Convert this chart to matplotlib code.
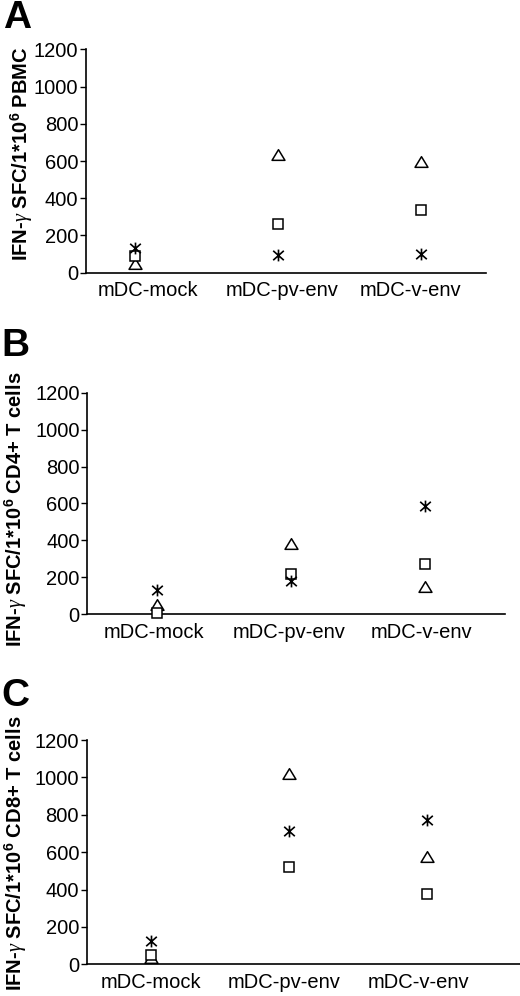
import matplotlib
matplotlib.use("Agg")
import matplotlib.pyplot as plt
from matplotlib.path import Path

plt.rcParams['font.family'] = ['Liberation Sans', 'DejaVu Sans']
plt.rcParams['mathtext.fontset'] = 'custom'
plt.rcParams['mathtext.rm'] = 'Liberation Sans'
plt.rcParams['mathtext.bf'] = 'Liberation Sans:bold'
plt.rcParams['mathtext.it'] = 'Liberation Serif:italic'

categories = ["mDC-mock", "mDC-pv-env", "mDC-v-env"]
yticks = [0, 200, 400, 600, 800, 1000, 1200]

# Panel A: PBMC
a_star = [130, 93, 100]
a_square = [90, 260, 335]
a_triangle = [45, 632, 592]
# Panel B: CD4+ T cells
b_star = [132, 182, 586]
b_square = [5, 220, 271]
b_triangle = [49, 381, 148]
# Panel C: CD8+ T cells
c_star = [127, 715, 772]
c_square = [52, 522, 374]
c_triangle = [32, 1018, 572]

panel_letters = ["A", "B", "C"]
ylabels = [r"IFN-$\mathit{\gamma}$ SFC/1*10$^{\mathbf{6}}$ PBMC",
           r"IFN-$\mathit{\gamma}$ SFC/1*10$^{\mathbf{6}}$ CD4+ T cells",
           r"IFN-$\mathit{\gamma}$ SFC/1*10$^{\mathbf{6}}$ CD8+ T cells"]

W, H = 520, 996
fig = plt.figure(figsize=(W / 100, H / 100), dpi=100)

star_path = Path([(0, -1), (0, 1), (-0.9, -0.8), (0.9, 0.8), (-0.9, 0.8), (0.9, -0.8)],
                 [Path.MOVETO, Path.LINETO, Path.MOVETO, Path.LINETO, Path.MOVETO, Path.LINETO])
tri_path = Path([(-1, -0.75), (1, -0.75), (0, 0.9), (-1, -0.75)],
                [Path.MOVETO, Path.LINETO, Path.LINETO, Path.CLOSEPOLY])

# layout in pixels: (left, right, top, bottom), xlim, label positions, ylabel center, letter center
layouts = [
    dict(box=(86, 486, 49.3, 272.7), xlim=(-0.340, 2.457), lab=[0.093, 1.03, 1.932],
         ylab=(22, 154), letter=(17, 18)),
    dict(box=(87.3, 505, 392.7, 614.3), xlim=(-0.523, 2.595), lab=[-0.025, 0.983, 1.968],
         ylab=(16, 509), letter=(15, 346)),
    dict(box=(86.7, 520, 740, 964.3), xlim=(-0.4636, 2.676), lab=[0.002, 0.966, 1.944],
         ylab=(16, 853), letter=(15, 696)),
]
data = [(a_star, a_square, a_triangle), (b_star, b_square, b_triangle), (c_star, c_square, c_triangle)]

for i, (lay, (st, sq, tr)) in enumerate(zip(layouts, data)):
    l, r, t, b = lay["box"]
    ax = fig.add_axes([l / W, 1 - b / H, (r - l) / W, (b - t) / H])
    xs = list(range(len(categories)))
    ax.plot(xs, tr, linestyle="none", marker=tri_path, markersize=9.3, markerfacecolor="white",
            markeredgecolor="black", markeredgewidth=1.1, clip_on=False, zorder=3)
    ax.plot(xs, sq, linestyle="none", marker="s", markersize=6.8, markerfacecolor="white",
            markeredgecolor="black", markeredgewidth=1.1, clip_on=False, zorder=3)
    ax.plot(xs, st, linestyle="none", marker=star_path, markersize=8.5, markerfacecolor="none",
            markeredgecolor="black", markeredgewidth=1.2, clip_on=False, zorder=4)
    ax.set_xlim(*lay["xlim"])
    ax.set_ylim(0, 1200)
    ax.set_yticks(yticks)
    ax.set_yticklabels([str(v) for v in yticks], fontsize=14.5)
    ax.set_xticks(lay["lab"])
    ax.set_xticklabels(categories, fontsize=14.5)
    ax.tick_params(axis="x", length=0, pad=6)
    ax.tick_params(axis="y", length=4, width=1, pad=1.5, direction="out")
    for s in ["top", "right"]:
        ax.spines[s].set_visible(False)
    for s in ["left", "bottom"]:
        ax.spines[s].set_linewidth(1.2)
        ax.spines[s].set_color("black")
    ax.patch.set_alpha(0)
    yx, yy = lay["ylab"]
    fig.text(yx / W, 1 - yy / H, ylabels[i], rotation=90, ha="center", va="center",
             fontsize=14.5, fontweight="bold")
    lx, ly = lay["letter"]
    fig.text(lx / W, 1 - ly / H, panel_letters[i], ha="center", va="center",
             fontsize=28, fontweight="bold")

fig.savefig("out.png", dpi=100)
